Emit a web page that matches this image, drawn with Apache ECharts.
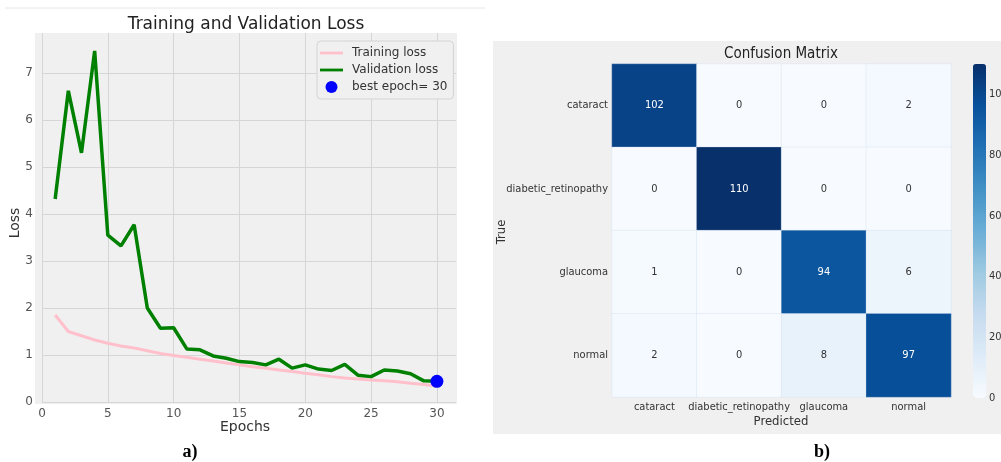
<!DOCTYPE html>
<html>
<head>
<meta charset="utf-8">
<title>Loss and Confusion Matrix</title>
<script src="https://cdn.jsdelivr.net/npm/echarts@6/dist/echarts.min.js"></script>
<style>
html, body { margin: 0; padding: 0; background: #fff; }
#main { width: 1001px; height: 462px; }
</style>
</head>
<body>
<div id="main"></div>
<script>
// ---- data ----
var epochs = [1,2,3,4,5,6,7,8,9,10,11,12,13,14,15,16,17,18,19,20,21,22,23,24,25,26,27,28,29,30];
var trainLoss = [1.85,1.50,1.41,1.32,1.25,1.19,1.15,1.09,1.03,0.99,0.95,0.91,0.87,0.83,0.79,0.75,0.72,0.68,0.65,0.61,0.58,0.54,0.51,0.49,0.47,0.45,0.43,0.40,0.37,0.34];
var valLoss = [4.32,6.62,5.30,7.47,3.55,3.32,3.77,2.00,1.57,1.58,1.13,1.11,0.98,0.93,0.86,0.84,0.79,0.91,0.72,0.79,0.70,0.67,0.80,0.57,0.54,0.68,0.66,0.60,0.45,0.44];
var bestEpoch = 30;
var bestLoss = 0.44;

var classes = ['cataract', 'diabetic_retinopathy', 'glaucoma', 'normal'];
var matrix = [
    [102, 0, 0, 2],
    [0, 110, 0, 0],
    [1, 0, 94, 6],
    [2, 0, 8, 97]
];
var blues = ['#f7fbff','#deebf7','#c6dbef','#9ecae1','#6baed6','#4292c6','#2171b5','#08519c','#08306b'];

var font = 'DejaVu Sans';
var cfont = 'DejaVu Sans Condensed';
// thin line legend icon (the moveTo points only pad the box)
var lineIcon = 'path://M0,0L0,0M23,12L23,12M0,4.6L23,4.6L23,7.4L0,7.4Z';

var lossPts = function (arr) {
    return epochs.map(function (e, i) { return [e, arr[i]]; });
};

var heatData = [];
matrix.forEach(function (row, r) {
    row.forEach(function (v, c) {
        heatData.push({
            value: [c, r, v],
            label: { color: v > 55 ? '#ffffff' : '#333333' }
        });
    });
});

var myChart = echarts.init(document.getElementById('main'));

myChart.setOption({
    animation: false,
    textStyle: { fontFamily: font },
    graphic: [
        // plot backgrounds
        { type: 'rect', z: -10, shape: { x: 35, y: 33, width: 422, height: 371 }, style: { fill: '#f0f0f0' } },
        { type: 'rect', z: -10, shape: { x: 493, y: 41, width: 508, height: 393 }, style: { fill: '#f0f0f0' } },
        { type: 'line', z: -10, shape: { x1: 5, y1: 8, x2: 485, y2: 8 }, style: { stroke: '#e6e6e6', lineWidth: 1 } },
        { type: 'text', style: { text: 'Training and Validation Loss', font: '17px "DejaVu Sans"', fill: '#222', x: 246, y: 25, align: 'center', verticalAlign: 'middle' } },
        { type: 'text', style: { text: 'Epochs', font: '14px "DejaVu Sans"', fill: '#333', x: 245, y: 427, align: 'center', verticalAlign: 'middle' } },
        { type: 'text', rotation: Math.PI / 2, x: 15, y: 223, style: { text: 'Loss', font: '14px "DejaVu Sans"', fill: '#333', align: 'center', verticalAlign: 'middle' } },
        { type: 'text', style: { text: 'Confusion Matrix', font: '15px "DejaVu Sans Condensed"', fill: '#222', x: 781, y: 54, align: 'center', verticalAlign: 'middle' } },
        { type: 'text', style: { text: 'Predicted', font: '13px "DejaVu Sans Condensed"', fill: '#333', x: 781, y: 422, align: 'center', verticalAlign: 'middle' } },
        { type: 'text', rotation: Math.PI / 2, x: 502, y: 232, style: { text: 'True', font: '13px "DejaVu Sans Condensed"', fill: '#333', align: 'center', verticalAlign: 'middle' } },
        { type: 'text', style: { text: 'a)', font: 'bold 18px "Liberation Serif"', fill: '#000', x: 190, y: 452, align: 'center', verticalAlign: 'middle' } },
        { type: 'text', style: { text: 'b)', font: 'bold 18px "Liberation Serif"', fill: '#000', x: 822, y: 452, align: 'center', verticalAlign: 'middle' } }
    ],
    legend: {
        orient: 'vertical',
        left: 317,
        top: 41,
        padding: [6, 6, 6, 3],
        itemGap: 5,
        itemWidth: 23,
        itemHeight: 12,
        backgroundColor: '#f0f0f0',
        borderColor: '#d4d4d4',
        borderWidth: 1,
        borderRadius: 4,
        textStyle: { fontSize: 12, color: '#333', fontFamily: font, padding: [0, 0, 0, 4] },
        data: [
            { name: 'Training loss', icon: lineIcon },
            { name: 'Validation loss', icon: lineIcon },
            { name: 'best epoch= ' + bestEpoch, icon: 'circle' }
        ]
    },
    grid: [
        { left: 42, top: 33, width: 414, height: 369, outerBoundsMode: 'none' },
        { left: 612, top: 64, width: 339, height: 333, outerBoundsMode: 'none' },
        { left: 973, top: 64, width: 13, height: 334, outerBoundsMode: 'none' }
    ],
    xAxis: [
        {
            gridIndex: 0, type: 'value', min: 0, max: 31.45, interval: 5,
            axisLine: { show: false }, axisTick: { show: false },
            axisLabel: { color: '#555', fontSize: 12, margin: 6, showMaxLabel: false },
            splitLine: { show: true, showMaxLine: false, lineStyle: { color: '#d6d6d6', width: 1 } }
        },
        {
            gridIndex: 1, type: 'category', data: classes,
            axisLine: { show: false }, axisTick: { show: false },
            axisLabel: { color: '#333', fontSize: 11, fontFamily: cfont, margin: 5, interval: 0 },
            splitArea: { show: false }
        },
        {
            gridIndex: 2, type: 'value', show: false
        }
    ],
    yAxis: [
        {
            gridIndex: 0, type: 'value', min: 0, max: 7.85, interval: 1,
            axisLine: { show: false }, axisTick: { show: false },
            axisLabel: { color: '#555', fontSize: 12, margin: 9, showMaxLabel: false },
            splitLine: { show: true, showMaxLine: false, lineStyle: { color: '#d6d6d6', width: 1 } }
        },
        {
            gridIndex: 1, type: 'category', data: classes, inverse: true,
            axisLine: { show: false }, axisTick: { show: false },
            axisLabel: { color: '#333', fontSize: 11, fontFamily: cfont, margin: 4, interval: 0 }
        },
        {
            gridIndex: 2, type: 'value', position: 'right', min: 0, max: 110, interval: 20,
            axisLine: { show: false }, axisTick: { show: false },
            splitLine: { show: false },
            axisLabel: { color: '#333', fontSize: 11, fontFamily: cfont, margin: 3, showMaxLabel: false, hideOverlap: false }
        }
    ],
    visualMap: {
        type: 'continuous',
        seriesIndex: 3,
        min: 0,
        max: 110,
        calculable: false,
        left: 973,
        top: 64,
        padding: 0,
        itemWidth: 13,
        itemHeight: 334,
        text: ['', ''],
        inRange: { color: blues }
    },
    series: [
        {
            name: 'Training loss', type: 'line', xAxisIndex: 0, yAxisIndex: 0,
            data: lossPts(trainLoss), symbol: 'none',
            lineStyle: { color: '#ffc0cb', width: 3 }, itemStyle: { color: '#ffc0cb' }
        },
        {
            name: 'Validation loss', type: 'line', xAxisIndex: 0, yAxisIndex: 0,
            data: lossPts(valLoss), symbol: 'none',
            lineStyle: { color: '#008000', width: 3.5 }, itemStyle: { color: '#008000' }
        },
        {
            name: 'best epoch= ' + bestEpoch, type: 'scatter', xAxisIndex: 0, yAxisIndex: 0,
            data: [[bestEpoch, bestLoss]], symbolSize: 13, z: 5,
            itemStyle: { color: '#0000ff', opacity: 1 }
        },
        {
            name: 'cm', type: 'heatmap', xAxisIndex: 1, yAxisIndex: 1,
            data: heatData,
            label: { show: true, fontSize: 11, fontFamily: cfont },
            itemStyle: { borderColor: 'rgba(200,215,235,0.6)', borderWidth: 0.5 }
        }
    ]
});
</script>
</body>
</html>
